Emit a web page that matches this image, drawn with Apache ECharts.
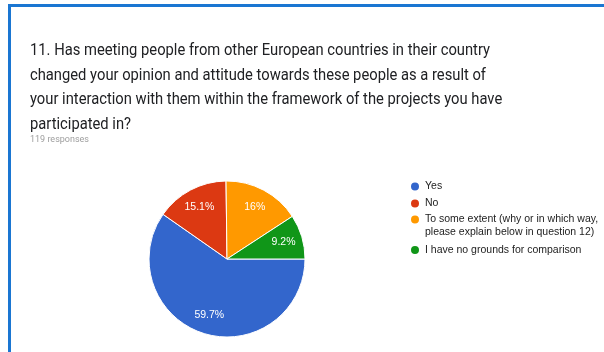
<!DOCTYPE html>
<html>
<head>
<meta charset="utf-8">
<script src="https://cdn.jsdelivr.net/npm/echarts@6/dist/echarts.min.js"></script>
<style>
  html, body { margin: 0; padding: 0; background: #fff; }
  #chart { width: 604px; height: 352px; }
</style>
</head>
<body>
<div id="chart"></div>
<script>
// Survey question 11: answers and their shares (percent of 119 responses)
const questionLines = [
  '11. Has meeting people from other European countries in their country',
  'changed your opinion and attitude towards these people as a result of',
  'your interaction with them within the framework of the projects you have',
  'participated in?'
];
const responseNote = '119 responses';
const categories = [
  'Yes',
  'No',
  'To some extent (why or in which way, please explain below in question 12)',
  'I have no grounds for comparison'
];
const shares = [59.7, 15.1, 16, 9.2];
const sliceColors = ['#3366cc', '#dc3912', '#ff9900', '#109618'];

const pieData = categories.map((name, i) => ({
  name: name,
  value: shares[i],
  itemStyle: { color: sliceColors[i] }
}));

const legendText = {
  fontFamily: 'Liberation Sans, Arial, sans-serif',
  fontSize: 10.5,
  lineHeight: 13,
  color: '#222'
};

const chart = echarts.init(document.getElementById('chart'), null, { renderer: 'canvas' });

chart.setOption({
  backgroundColor: '#fff',
  animation: false,
  graphic: [{
    // card frame
    type: 'rect',
    silent: true,
    shape: { x: 9.5, y: 5.5, width: 800, height: 500 },
    style: { fill: 'none', stroke: '#1a76d2', lineWidth: 3 }
  }, {
    // question heading, set in a slightly condensed Roboto
    type: 'text',
    silent: true,
    x: 30,
    y: 39,
    scaleX: 0.9,
    style: {
      text: questionLines.join('\n'),
      fontFamily: 'Roboto, sans-serif',
      fontSize: 16.4,
      lineHeight: 24.5,
      fill: '#202124',
      verticalAlign: 'top',
      align: 'left'
    }
  }],
  title: [{
    text: responseNote,
    left: 30,
    top: 134,
    padding: 0,
    textStyle: {
      fontFamily: 'Roboto, sans-serif',
      fontSize: 9,
      fontWeight: 'normal',
      lineHeight: 11,
      color: '#9e9e9e'
    }
  }],
  legend: [{
    data: [categories[0], categories[1]],
    orient: 'vertical',
    left: 409,
    top: 180,
    padding: 0,
    itemGap: 4,
    itemWidth: 10,
    itemHeight: 10,
    icon: 'circle',
    selectedMode: false,
    textStyle: legendText
  }, {
    data: [categories[2], categories[3]],
    orient: 'vertical',
    left: 409,
    top: 200,
    padding: 0,
    itemGap: 4.5,
    itemWidth: 10,
    itemHeight: 10,
    icon: 'circle',
    selectedMode: false,
    // the long answer wraps onto two lines, first line level with its dot
    formatter: name => name.indexOf('way, ') >= 0 ? '\n' + name.replace('way, ', 'way,\n') : name,
    textStyle: legendText
  }],
  series: [{
    // the slices
    type: 'pie',
    center: [227, 259],
    radius: [0, 78],
    startAngle: 0,
    clockwise: true,
    data: pieData,
    label: { show: false },
    labelLine: { show: false },
    itemStyle: { borderColor: '#fff', borderWidth: 1 },
    emphasis: { disabled: true }
  }, {
    // percentage labels placed further out along each slice
    type: 'pie',
    center: [227, 259],
    radius: [32, 80],
    startAngle: 0,
    clockwise: true,
    silent: true,
    data: pieData.map(d => ({ name: d.name, value: d.value })),
    itemStyle: { color: 'rgba(0,0,0,0)', borderWidth: 0 },
    label: {
      show: true,
      position: 'inside',
      formatter: '{c}%',
      color: '#fff',
      fontFamily: 'Liberation Sans, Arial, sans-serif',
      fontSize: 10.5
    },
    labelLine: { show: false },
    emphasis: { disabled: true }
  }]
});
</script>
</body>
</html>
